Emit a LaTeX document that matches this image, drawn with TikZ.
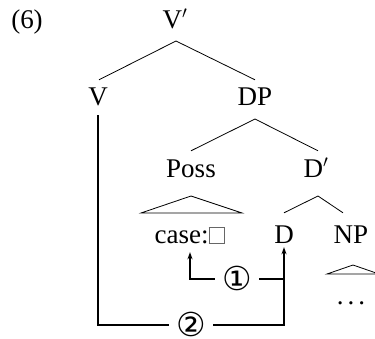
\documentclass[tikz,border=0pt]{standalone}
\usepackage{fontspec}
\setmainfont{Liberation Serif}
\newfontfamily\circfont{DejaVu Sans}
\usetikzlibrary{arrows.meta}
\setlength{\fboxsep}{0pt}
\setlength{\fboxrule}{0.8pt}
\newcommand{\emptybox}{\textcolor{black!60}{\fbox{\rule{0pt}{15pt}\hspace{15pt}}}}
\newcommand{\spreaddots}{.\hspace{4pt}.\hspace{4pt}.}
\tikzset{
  tn/.style={anchor=base, inner sep=0pt, text height=18pt, text depth=0pt},
  branch/.style={line width=0.8pt},
  arr/.style={line width=1.6pt, -{Stealth[length=7pt,width=5pt]}},
  circ/.style={fill=white, inner xsep=7pt, inner ysep=0pt, text height=22pt, text depth=0pt,
    font=\circfont\fontsize{33}{33}\selectfont}
}
\begin{document}
\begin{tikzpicture}[x=1pt, y=-1pt, font=\fontsize{27}{31}\selectfont]
\useasboundingbox (0,0) rectangle (375,338);

% labels of the tree
\node[tn] (ex)   at (27,28)   {(6)};
\node[tn] (Vbar) at (175,28)  {V$'$};
\node[tn] (V)    at (98,105)  {V};
\node[tn] (DP)   at (255,105) {DP};
\node[tn] (Poss) at (191,177) {Poss};
\node[tn] (Dbar) at (316,177) {D$'$};
\node[tn] (case) at (190,243) {case:\emptybox};
\node[tn] (D)    at (284,243) {D};
\node[tn] (NP)   at (351,243) {NP};
\node[tn, text height=3pt] (dots) at (351,304) {\spreaddots};

% branches
\draw[branch] ([xshift=1pt,yshift=-13pt]Vbar.base) -- ([xshift=1pt,yshift=7pt]V.north);
\draw[branch] ([xshift=1pt,yshift=-13pt]Vbar.base) -- ([yshift=7pt]DP.north);
\draw[branch] ([yshift=-14pt]DP.base) -- ([yshift=8pt]Poss.north);
\draw[branch] ([yshift=-14pt]DP.base) -- ([xshift=2pt,yshift=8pt]Dbar.north);
\draw[branch] ([xshift=2pt,yshift=-19pt]Dbar.base) -- ([yshift=12pt]D.north);
\draw[branch] ([xshift=2pt,yshift=-19pt]Dbar.base) -- ([xshift=-8pt,yshift=12pt]NP.north);

% triangles
\draw[branch, line join=miter] ([yshift=-19pt]Poss.base) -- ++(-50,17) -- ++(101,0) -- cycle;
\draw[branch, line join=miter] ([xshift=2pt,yshift=-22pt]NP.base) -- ++(-26,9) -- ++(52,0) -- cycle;

% movement arrows
\coordinate (j1) at (D.south |- 0,279);
\draw[arr] ([yshift=-10pt]V.south) |- (D.south |- 0,325)
  node[circ, pos=0.75] {②} -- ([yshift=-4pt]D.south);
\draw[arr] (j1) -| node[circ, pos=0.25] {①} ([yshift=-9pt]case.south);
\end{tikzpicture}
\end{document}
